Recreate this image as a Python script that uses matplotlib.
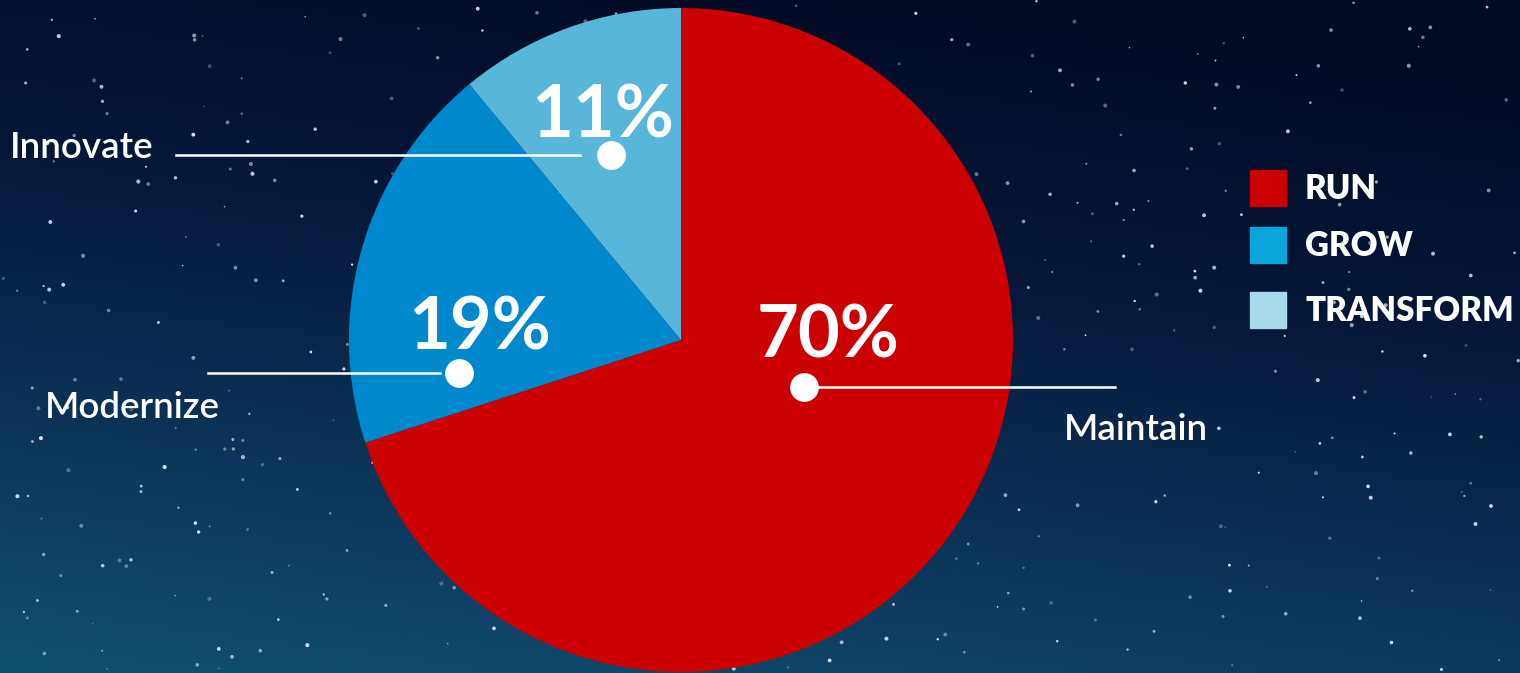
import numpy as np
import matplotlib.pyplot as plt
from matplotlib.colors import LinearSegmentedColormap
from matplotlib.patches import Rectangle

# spend split
shares = [70, 19, 11]
pct_labels = ['70%', '19%', '11%']
slice_names = ['Maintain', 'Modernize', 'Innovate']
legend_names = ['RUN', 'GROW', 'TRANSFORM']

pie_colors = ['#cc0000', '#0088cc', '#57b6da']
legend_colors = ['#cc0000', '#0aa6da', '#a6dcea']

W, H = 1520, 673
plt.rcParams['font.family'] = ['Lato', 'DejaVu Sans']

fig = plt.figure(figsize=(W / 100, H / 100), dpi=100)
ax = fig.add_axes([0, 0, 1, 1])

# night sky backdrop
sky = LinearSegmentedColormap.from_list('sky', ['#0f5072', '#0b3358', '#06173a', '#020b24'])
yy, xx = np.mgrid[0:1:200j, 0:1:300j]
grad = np.clip(yy * 0.85 + xx * 0.25, 0, 1)
ax.imshow(grad, cmap=sky, extent=[0, W, 0, H], origin='lower', aspect='auto', zorder=0)

rng = np.random.default_rng(11)
n = 480
sx = rng.uniform(0, W, n)
sy = rng.uniform(0, H, n)
ss = rng.uniform(1, 9, n)
sa = rng.uniform(0.25, 0.9, n)
ax.scatter(sx, sy, s=ss, c='white', alpha=sa, linewidths=0, zorder=1)

cx, cy, r = 681, H - 340, 332
ax.pie(shares, colors=pie_colors, startangle=90, counterclock=False,
       center=(cx, cy), radius=r, frame=True,
       wedgeprops=dict(linewidth=0, zorder=2))
ax.set_xlim(0, W)
ax.set_ylim(0, H)
ax.set_aspect('auto')
ax.axis('off')

# percentage figures
pct_pos = [(828, 357), (480, 350), (603, 137)]
for txt, (x, y) in zip(pct_labels, pct_pos):
    ax.text(x, H - y, txt, color='white', fontsize=52, fontweight='bold',
            ha='center', va='baseline', zorder=5)

# leader lines with dots
dots = [(804, 387), (459, 373), (611, 155)]
line_ends = [(812, 1115), (208, 440), (176, 580)]
for (dx, dy), (x0, x1) in zip(dots, line_ends):
    ax.plot([x0, x1], [H - dy, H - dy], color='white', lw=1.8, zorder=4)
    ax.scatter([dx], [H - dy], s=430, color='white', linewidths=0, zorder=5)

name_pos = [(1064, 440), (45, 418), (10, 158)]
for txt, (x, y) in zip(slice_names, name_pos):
    ax.text(x, H - y, txt, color='white', fontsize=26.5, fontweight='semibold',
            ha='left', va='baseline', zorder=5)

# legend
box_top = [170, 227, 292]
for name, col, top in zip(legend_names, legend_colors, box_top):
    ax.add_patch(Rectangle((1250, H - top - 36), 36, 36, color=col, zorder=5))
    ax.text(1305, H - top - 29, name, color='white', fontsize=23.8,
            fontweight='heavy', ha='left', va='baseline', zorder=5)

fig.savefig('out.png', dpi=100)
